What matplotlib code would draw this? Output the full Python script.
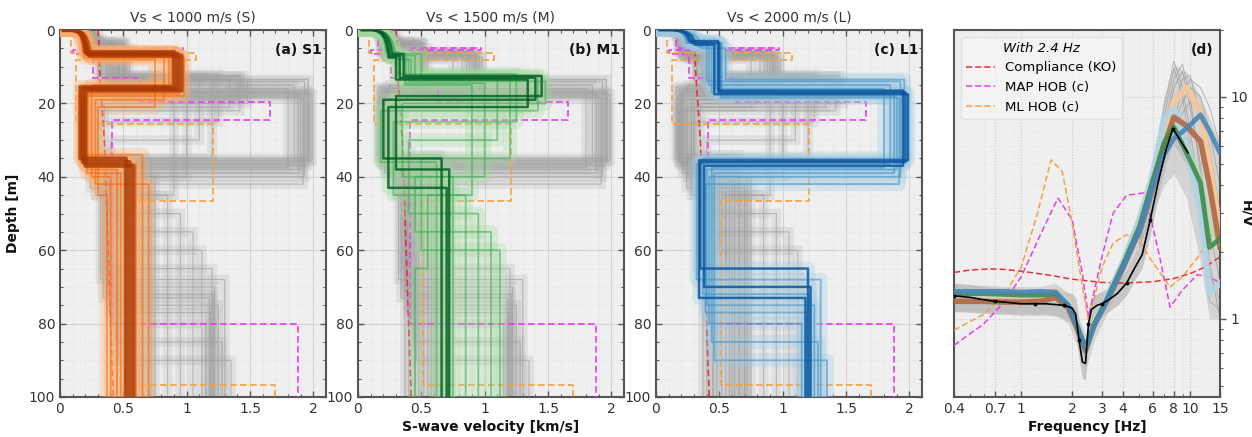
import matplotlib
matplotlib.use("Agg")
import matplotlib.pyplot as plt
from matplotlib.ticker import MultipleLocator, FixedLocator, NullFormatter, FixedFormatter

# ---------------- data ----------------
titles = ["Vs < 1000 m/s (S)", "Vs < 1500 m/s (M)", "Vs < 2000 m/s (L)"]
panel_labels = ["(a) S1", "(b) M1", "(c) L1", "(d)"]

# shared shape of the near-surface gradient (fractions of depth / velocity)
grad_z = [0.0, 0.0, 0.05, 0.15, 0.30, 0.50, 0.75, 1.00]
grad_v = [0.0, 0.40, 0.60, 0.75, 0.85, 0.92, 0.97, 1.00]
v_surface = 0.03

# S ensemble (orange)
S_d1 = [6.5, 6.0, 7.0, 6.5, 7.5, 6.0, 7.0, 6.5, 8.0, 6.0]
S_v1 = [0.21, 0.20, 0.23, 0.22, 0.19, 0.24, 0.22, 0.21, 0.26, 0.18]
S_d2 = [16.0, 15.5, 16.5, 16.0, 18.0, 15.0, 17.5, 19.0, 21.0, 17.0]
S_v2 = [0.93, 0.90, 0.96, 0.86, 0.98, 0.88, 0.94, 0.82, 0.75, 0.92]
S_d3 = [36.0, 35.0, 37.0, 38.0, 34.0, 40.0, 36.5, 42.0, 45.0, 39.0]
S_v3 = [0.18, 0.16, 0.20, 0.22, 0.17, 0.25, 0.19, 0.28, 0.30, 0.21]
S_v4 = [0.55, 0.52, 0.58, 0.45, 0.65, 0.40, 0.60, 0.70, 0.37, 0.48]

# M ensemble (green)
M_d1 = [7.0, 6.5, 7.5, 8.0, 6.0, 7.0, 7.5, 6.5, 8.0, 7.0]
M_v1 = [0.25, 0.27, 0.24, 0.30, 0.22, 0.28, 0.26, 0.25, 0.30, 0.27]
M_d2 = [13.0, 12.5, 13.5, 14.0, 12.0, 13.0, 14.5, 12.5, 13.0, 15.0]
M_v2 = [0.33, 0.36, 0.30, 0.40, 0.32, 0.45, 0.38, 0.50, 0.42, 0.37]
M_d3 = [19.0, 18.0, 21.0, 20.0, 25.0, 30.0, 40.0, 22.0, 35.0, 45.0]
M_v3 = [1.40, 1.45, 1.34, 1.48, 1.25, 1.10, 1.00, 1.42, 1.20, 0.90]
M_d4 = [35.0, 38.0, 43.0, 40.0, 45.0, 50.0, 55.0, 36.0, 60.0, 65.0]
M_v4 = [0.20, 0.30, 0.24, 0.35, 0.28, 0.40, 0.45, 0.18, 0.50, 0.55]
M_v5 = [0.66, 0.72, 0.70, 0.75, 0.85, 0.95, 1.05, 0.62, 1.12, 0.45]

# L ensemble (blue)
L_d1 = [3.5, 3.0, 4.0, 3.5, 4.5, 3.0, 4.0, 5.0, 3.5, 4.0]
L_v1 = [0.28, 0.26, 0.31, 0.24, 0.33, 0.28, 0.30, 0.36, 0.25, 0.29]
L_d2 = [17.0, 16.5, 17.5, 18.0, 15.0, 14.0, 16.0, 13.5, 17.0, 18.5]
L_v2 = [0.50, 0.49, 0.46, 0.52, 0.42, 0.40, 0.47, 0.55, 0.44, 0.51]
L_d3 = [36.0, 37.0, 35.5, 38.0, 36.5, 40.0, 37.5, 35.0, 39.0, 42.0]
L_v3 = [1.97, 1.95, 1.99, 1.90, 1.85, 1.93, 1.80, 1.96, 1.88, 1.92]
L_d4 = [65.0, 70.0, 73.0, 75.0, 68.0, 80.0, 85.0, 72.0, 90.0, 77.0]
L_v4 = [0.35, 0.38, 0.34, 0.40, 0.32, 0.42, 0.44, 0.37, 0.46, 0.39]
L_v5 = [1.20, 1.22, 1.18, 1.25, 1.30, 1.15, 1.28, 1.21, 1.35, 1.19]

# reference profiles (same in the three panels)
ko_depth = [0, 5, 10, 15, 20, 30, 40, 50, 60, 70, 80, 90, 100]
ko_vs = [0.30, 0.31, 0.31, 0.32, 0.33, 0.35, 0.36, 0.37, 0.38, 0.39, 0.40, 0.41, 0.42]
map_tops = [0.0, 4.8, 5.4, 6.5, 13.0, 19.5, 24.5, 80.0]
map_vs = [0.16, 0.97, 0.10, 0.26, 0.63, 1.66, 0.41, 1.88]
ml_tops = [0.0, 6.3, 8.2, 25.5, 46.5, 96.7]
ml_vs = [0.09, 1.07, 0.13, 1.21, 0.51, 1.70]

# H/V panel
hv_xticks = [0.4, 0.7, 1, 2, 3, 4, 6, 8, 10, 15]
hv_xticklabels = ["0.4", "0.7", "1", "2", "3", "4", "6", "8", "10", "15"]

f_ko = [0.4, 0.5, 0.65, 0.8, 1.0, 1.5, 2.0, 3.0, 4.0, 6.0, 8.0, 10.0, 12.0, 15.0]
hv_ko = [1.62, 1.66, 1.68, 1.67, 1.64, 1.57, 1.51, 1.46, 1.45, 1.47, 1.52, 1.60, 1.70, 1.90]
f_map = [0.4, 0.6, 0.8, 1.0, 1.3, 1.65, 2.0, 2.3, 2.5, 3.0, 3.5, 4.2, 5.4, 6.5, 7.6, 9.0, 11.0, 13.0, 15.0]
hv_map = [0.76, 0.95, 1.2, 1.55, 2.4, 3.5, 2.8, 1.6, 1.02, 1.9, 3.0, 3.6, 3.7, 2.0, 1.13, 1.35, 1.58, 1.55, 1.45]
f_ml = [0.4, 0.6, 0.8, 1.0, 1.25, 1.5, 1.75, 2.0, 2.3, 2.5, 3.0, 3.5, 4.2, 4.9, 6.0, 7.6, 9.0, 11.0, 13.0, 15.0]
hv_ml = [0.89, 1.05, 1.3, 1.71, 3.0, 5.2, 4.6, 2.7, 1.4, 0.98, 1.7, 2.2, 2.39, 2.27, 1.8, 1.39, 1.55, 1.88, 2.3, 2.8]

f_obs = [0.4, 0.5, 0.6, 0.7, 0.8, 1.0, 1.2, 1.4, 1.6, 1.8, 2.0, 2.1, 2.2, 2.3, 2.4, 2.5, 2.6, 2.8,
         3.0, 3.3, 3.7, 4.2, 4.7, 5.2, 5.8, 6.5, 7.2, 7.9, 8.7, 9.7]
hv_obs = [1.27, 1.25, 1.22, 1.20, 1.19, 1.17, 1.17, 1.17, 1.16, 1.15, 1.12, 1.05, 0.80, 0.64, 0.63,
          0.95, 1.10, 1.15, 1.17, 1.22, 1.30, 1.45, 1.70, 1.95, 2.8, 4.2, 5.8, 7.2, 6.4, 5.6]
hv_obs_lo = [1.08, 1.07, 1.06, 1.05, 1.05, 1.04, 1.04, 1.04, 1.03, 1.0, 0.95, 0.85, 0.66, 0.54, 0.53,
             0.8, 0.95, 1.0, 1.03, 1.08, 1.15, 1.28, 1.5, 1.7, 2.4, 3.6, 5.0, 6.2, 5.5, 4.8]
hv_obs_hi = [1.45, 1.43, 1.40, 1.38, 1.37, 1.35, 1.35, 1.35, 1.34, 1.33, 1.30, 1.25, 1.0, 0.78, 0.78,
             1.1, 1.25, 1.3, 1.33, 1.38, 1.48, 1.65, 1.95, 2.25, 3.2, 4.9, 6.7, 8.4, 7.4, 6.5]

f_fit = [0.4, 0.6, 0.8, 1.0, 1.3, 1.6, 1.9, 2.15, 2.4, 2.7, 3.2, 4.0, 5.0, 6.0, 7.0, 8.0, 9.5, 11.5, 13.0, 15.0]
hv_env_lo = [1.08, 1.08, 1.07, 1.06, 1.06, 1.05, 0.95, 0.75, 0.58, 0.80, 1.05, 1.5, 2.1, 3.0, 4.0, 4.5, 3.5, 1.8, 1.0, 1.0]
hv_env_hi = [1.42, 1.42, 1.40, 1.40, 1.40, 1.45, 1.30, 1.05, 0.85, 1.05, 1.35, 1.95, 3.0, 5.0, 10.0, 14.0, 13.0, 10.0, 8.0, 6.0]

hv_wheat = [1.28, 1.28, 1.28, 1.27, 1.28, 1.35, 1.20, 0.93, 0.73, 0.95, 1.22, 1.75, 2.6, 4.2, 7.0, 9.5, 11.0, 8.5, 5.0, 2.5]
hv_lgreen = [1.30, 1.30, 1.30, 1.29, 1.30, 1.32, 1.17, 0.92, 0.74, 0.95, 1.23, 1.78, 2.7, 4.3, 6.8, 7.6, 6.0, 4.2, 2.6, 2.2]
hv_lblue = [1.30, 1.30, 1.30, 1.30, 1.30, 1.32, 1.18, 0.93, 0.74, 0.95, 1.25, 1.80, 2.8, 4.5, 8.0, 8.8, 6.0, 3.0, 1.3, 1.45]
hv_brown = [1.20, 1.20, 1.19, 1.19, 1.20, 1.25, 1.12, 0.90, 0.72, 0.94, 1.20, 1.70, 2.5, 3.9, 6.0, 8.1, 7.4, 6.3, 4.0, 2.1]
hv_green = [1.30, 1.30, 1.29, 1.28, 1.28, 1.30, 1.15, 0.92, 0.74, 0.94, 1.22, 1.75, 2.6, 4.2, 6.2, 7.3, 5.6, 4.1, 2.1, 2.3]
hv_blue = [1.33, 1.33, 1.33, 1.32, 1.33, 1.32, 1.15, 0.92, 0.73, 0.93, 1.20, 1.70, 2.5, 3.9, 5.5, 6.5, 7.2, 8.3, 7.0, 5.6]

f_hi = [5.0, 6.0, 7.0, 8.0, 9.0, 10.0, 11.5, 13.0, 15.0]
hv_grey_curves = [
    [2.4, 3.8, 6.5, 11.0, 13.0, 9.0, 5.0, 2.5, 1.5],
    [2.2, 3.5, 6.0, 9.0, 12.0, 12.5, 8.0, 4.0, 2.0],
    [2.6, 4.2, 8.0, 13.5, 10.0, 6.0, 3.0, 1.2, 1.1],
    [2.3, 3.6, 5.5, 7.5, 9.5, 11.0, 10.0, 7.0, 4.0],
    [2.5, 4.0, 7.0, 12.0, 14.0, 10.0, 4.5, 1.8, 1.0],
    [2.1, 3.2, 5.0, 8.0, 10.5, 12.0, 11.0, 9.0, 6.0],
    [2.7, 4.5, 9.0, 14.5, 11.0, 7.0, 3.5, 1.6, 1.2],
    [2.3, 3.4, 5.2, 7.0, 8.5, 9.5, 9.0, 6.0, 3.0],
]

# ---------------- helpers ----------------
def gradient_profile(d1, v1, tops, vels):
    z = [fz * d1 for fz in grad_z]
    v = [v_surface + (v1 - v_surface) * fv for fv in grad_v]
    for t, vv in zip(tops, vels):
        z += [t, t]
        v += [v[-1], vv]
    z.append(100.0)
    v.append(v[-1])
    return v, z


def step_profile(tops, vels):
    z, v = [tops[0]], [vels[0]]
    for t, vv in zip(tops[1:], vels[1:]):
        z += [t, t]
        v += [v[-1], vv]
    z.append(100.0)
    v.append(v[-1])
    return v, z


S_prof = [gradient_profile(S_d1[i], S_v1[i], [S_d1[i], S_d2[i], S_d3[i]], [S_v2[i], S_v3[i], S_v4[i]])
          for i in range(len(S_d1))]
M_prof = [gradient_profile(M_d1[i], M_v1[i], [M_d1[i], M_d2[i], M_d3[i], M_d4[i]],
                           [M_v2[i], M_v3[i], M_v4[i], M_v5[i]]) for i in range(len(M_d1))]
L_prof = [gradient_profile(L_d1[i], L_v1[i], [L_d1[i], L_d2[i], L_d3[i], L_d4[i]],
                           [L_v2[i], L_v3[i], L_v4[i], L_v5[i]]) for i in range(len(L_d1))]
ensembles = [S_prof, M_prof, L_prof]
colours = [("#fdae6b", "#f16913", "#a63603"),
           ("#a1d99b", "#41ab5d", "#005a24"),
           ("#9ecae1", "#4292c6", "#08519c")]

BG = "#efefef"
SPINE = "#555555"
TXT = "#333333"

plt.rcParams["font.family"] = ["DejaVu Sans"]
plt.rcParams["font.size"] = 9.5

fig = plt.figure(figsize=(12.52, 4.37), dpi=100)
W, H = 1252.0, 437.0
lefts = [60, 358, 656, 954]
bottom = 1 - 397 / H
height = 367 / H
width = 266 / W

for k in range(3):
    ax = fig.add_axes([lefts[k] / W, bottom, width, height])
    ax.set_facecolor(BG)
    ax.set_axisbelow(True)
    # grey: the other two ensembles
    for j in range(3):
        if j == k:
            continue
        for v, z in ensembles[j]:
            ax.plot(v, z, color="#a8a8a8", lw=7, alpha=0.22, solid_joinstyle="miter")
            ax.plot(v, z, color="#9a9a9a", lw=0.8, alpha=0.6)
    # reference profiles
    ax.plot(ko_vs, ko_depth, color="#e8303a", ls=(0, (4, 2)), lw=1.2, zorder=4)
    mv, mz = step_profile(map_tops, map_vs)
    ax.plot(mv, mz, color="#e83ee8", ls=(0, (4, 2)), lw=1.2, zorder=4)
    lv, lz = step_profile(ml_tops, ml_vs)
    ax.plot(lv, lz, color="#f5a040", ls=(0, (4, 2)), lw=1.2, zorder=4)
    # own ensemble
    light, mid, dark = colours[k]
    for v, z in ensembles[k]:
        ax.plot(v, z, color=light, lw=10, alpha=0.3, zorder=5)
    for v, z in ensembles[k]:
        ax.plot(v, z, color=mid, lw=1.3, alpha=0.6, zorder=6)
    for v, z in ensembles[k][:3]:
        ax.plot(v, z, color=dark, lw=3.0 if k == 0 else 1.8, alpha=0.75, zorder=7)

    ax.set_xlim(0, 2.1)
    ax.set_ylim(100, 0)
    ax.xaxis.set_major_locator(FixedLocator([0, 0.5, 1, 1.5, 2]))
    ax.xaxis.set_major_formatter(FixedFormatter(["0", "0.5", "1", "1.5", "2"]))
    ax.xaxis.set_minor_locator(MultipleLocator(0.1))
    ax.yaxis.set_major_locator(MultipleLocator(20))
    ax.yaxis.set_minor_locator(MultipleLocator(5))
    ax.grid(True, which="major", color="#d2d2d2", lw=0.8, ls="-")
    ax.grid(True, which="minor", color="#dcdcdc", lw=0.5, ls=":")
    ax.tick_params(which="both", direction="in", top=True, right=True, colors=SPINE,
                   labelcolor=TXT, labelsize=10)
    ax.tick_params(which="major", length=4, width=1)
    ax.tick_params(which="minor", length=2, width=0.8)
    for s in ax.spines.values():
        s.set_color(SPINE)
        s.set_linewidth(1.5)
    ax.set_title(titles[k], fontsize=10, color=TXT, pad=6)
    ax.text(0.985, 0.965, panel_labels[k], transform=ax.transAxes, ha="right", va="top",
            fontsize=10, fontweight="bold", color="#111111", zorder=10)
    if k == 0:
        ax.set_ylabel("Depth [m]", fontweight="bold", fontsize=10, color="#111111", labelpad=6)
    if k == 1:
        ax.set_xlabel("S-wave velocity [km/s]", fontweight="bold", fontsize=10, color="#111111", labelpad=3)

# ---------------- H/V panel ----------------
ax = fig.add_axes([lefts[3] / W, bottom, width, height])
ax.set_facecolor(BG)
ax.set_axisbelow(True)
ax.set_xscale("log")
ax.set_yscale("log")
ax.fill_between(f_fit, hv_env_lo, hv_env_hi, color="#b4b4b4", alpha=0.45, lw=0, zorder=1)
for c in hv_grey_curves:
    ax.plot(f_hi, c, color="#9a9a9a", lw=0.7, alpha=0.7, zorder=2)
ax.fill_between(f_obs, hv_obs_lo, hv_obs_hi, color="#bdbdbd", alpha=0.8, lw=0, zorder=2)
l1, = ax.plot(f_ko, hv_ko, color="#e8303a", ls=(0, (4, 2)), lw=1.1, zorder=3)
l2, = ax.plot(f_map, hv_map, color="#e83ee8", ls=(0, (4, 2)), lw=1.1, zorder=3)
l3, = ax.plot(f_ml, hv_ml, color="#f5a040", ls=(0, (4, 2)), lw=1.1, zorder=3)
ax.plot(f_fit, hv_wheat, color="#f6c89c", lw=4.5, alpha=0.9, zorder=4)
ax.plot(f_fit, hv_lgreen, color="#b8dcb2", lw=4.5, alpha=0.9, zorder=4)
ax.plot(f_fit, hv_lblue, color="#b4d3e6", lw=4.5, alpha=0.9, zorder=4)
ax.plot(f_fit, hv_brown, color="#b0633a", lw=4, alpha=0.85, zorder=5)
ax.plot(f_fit, hv_green, color="#3d8c4f", lw=3.5, alpha=0.9, zorder=6)
ax.plot(f_fit, hv_blue, color="#4a86b8", lw=3.5, alpha=0.9, zorder=7)
ax.plot(f_obs, hv_obs, color="black", lw=1.2, marker="o", markersize=1.8, markevery=3, zorder=8)

ax.set_xlim(0.4, 15)
ax.set_ylim(0.445, 20)
ax.xaxis.set_major_locator(FixedLocator(hv_xticks))
ax.xaxis.set_major_formatter(FixedFormatter(hv_xticklabels))
ax.xaxis.set_minor_formatter(NullFormatter())
ax.yaxis.tick_right()
ax.yaxis.set_label_position("right")
ax.yaxis.set_major_locator(FixedLocator([1, 10]))
ax.yaxis.set_major_formatter(FixedFormatter(["1", "10"]))
ax.yaxis.set_minor_formatter(NullFormatter())
ax.grid(True, which="major", color="#cccccc", lw=0.8, ls=":")
ax.grid(True, which="minor", color="#dddddd", lw=0.5, ls=":")
ax.tick_params(axis="x", which="both", direction="in", colors=SPINE, labelcolor=TXT, labelsize=10)
ax.tick_params(axis="y", which="both", direction="out", colors=SPINE, labelcolor=TXT, labelsize=10)
ax.tick_params(which="major", length=4, width=1)
ax.tick_params(which="minor", length=2.5, width=0.8)
for s in ax.spines.values():
    s.set_color(SPINE)
    s.set_linewidth(1.5)
ax.set_xlabel("Frequency [Hz]", fontweight="bold", fontsize=10, color="#111111", labelpad=3)
ax.set_ylabel("H/V", fontweight="bold", fontsize=10, color="#111111", rotation=270, labelpad=4)
ax.text(0.975, 0.965, panel_labels[3], transform=ax.transAxes, ha="right", va="top",
        fontsize=10, fontweight="bold", color="#111111", zorder=10)
leg = ax.legend([l1, l2, l3], ["Compliance (KO)", "MAP HOB (c)", "ML HOB (c)"],
                title="With 2.4 Hz", loc="upper left", fontsize=9.5, title_fontsize=9.5,
                frameon=True, fancybox=True, framealpha=0.7, edgecolor="#dddddd",
                facecolor="#f6f6f6", handlelength=2.2, borderaxespad=0.5)
leg.get_title().set_fontstyle("italic")
leg.set_zorder(20)

fig.savefig("out.png", dpi=100)
